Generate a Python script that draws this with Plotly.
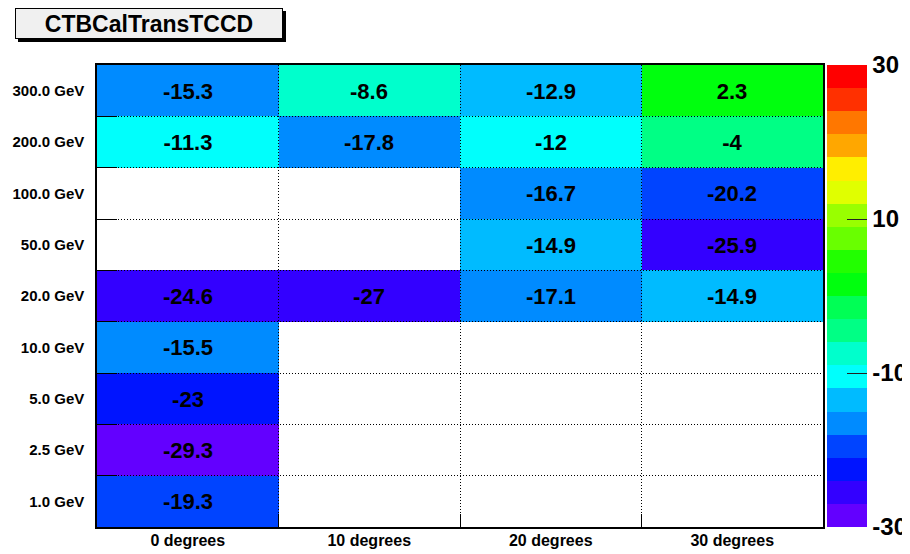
import plotly.graph_objects as go

# ---- data ----
angles = ["0 degrees", "10 degrees", "20 degrees", "30 degrees"]
energies = ["1.0 GeV", "2.5 GeV", "5.0 GeV", "10.0 GeV", "20.0 GeV",
            "50.0 GeV", "100.0 GeV", "200.0 GeV", "300.0 GeV"]
# rows in the same order as energies (bottom to top)
row_1 = [-19.3, None, None, None]
row_2_5 = [-29.3, None, None, None]
row_5 = [-23, None, None, None]
row_10 = [-15.5, None, None, None]
row_20 = [-24.6, -27, -17.1, -14.9]
row_50 = [None, None, -14.9, -25.9]
row_100 = [None, None, -16.7, -20.2]
row_200 = [-11.3, -17.8, -12, -4]
row_300 = [-15.3, -8.6, -12.9, 2.3]
z = [row_1, row_2_5, row_5, row_10, row_20, row_50, row_100, row_200, row_300]
cbar_ticks = [-30, -10, 10, 30]
cbar_labels = ["-30", "-10", "10", "30"]

# ROOT pretty palette, 20 contour levels (bottom -> top)
palette = ["#6300FF", "#3300FF", "#0014FF", "#0044FF", "#008BFF",
           "#00BBFF", "#00FFFC", "#00FFCC", "#00FF85", "#00FF55",
           "#00FF0E", "#22FF00", "#69FF00", "#99FF00", "#E0FF00",
           "#FFEE00", "#FFA700", "#FF7700", "#FF3000", "#FF0000"]
n = len(palette)
eps = 1e-6
colorscale = []
for i, c in enumerate(palette):
    lo = 0.0 if i == 0 else i / n - eps
    hi = 1.0 if i == n - 1 else (i + 1) / n - eps
    colorscale.append([lo, c])
    colorscale.append([hi, c])

text = [["" if v is None else f"{v:g}" for v in row] for row in z]

FONT = "Liberation Sans"
OFF = 8  # page body margin
W, H = 910 - OFF, 554 - OFF
PL, PR, PT, PB = 97, 823, 65, 527  # plot area in window pixels
L, R, T, B = PL - OFF, W - (PR - OFF), PT - OFF, H - (PB - OFF)
pw, ph = W - L - R, H - T - B


def px(xw):
    return (xw - OFF - L) / pw


def py(yw):
    return (H - B - (yw - OFF)) / ph


fig = go.Figure()
fig.add_trace(go.Heatmap(
    x=angles, y=energies, z=z, text=text, texttemplate="%{text}",
    textfont=dict(family=FONT, size=22, color="black", weight="bold"),
    colorscale=colorscale, zmin=-30, zmax=30, hoverongaps=False,
    colorbar=dict(
        x=px(827), xanchor="left", xpad=0,
        y=0.5, yanchor="middle", len=1, lenmode="fraction", ypad=0,
        thickness=40, thicknessmode="pixels", outlinewidth=0,
        tickmode="array", tickvals=cbar_ticks, ticktext=cbar_labels,
        ticks="inside", ticklen=20, tickwidth=1, tickcolor="#222",
        tickfont=dict(family=FONT, size=24, color="black", weight="bold"),
    ),
))
# empty trace on an overlapping subplot used to draw the dotted grid above the cells
fig.add_trace(go.Scatter(x=[], y=[], xaxis="x2", yaxis="y2", showlegend=False,
                         hoverinfo="skip"))

fig.update_layout(
    width=W, height=H,
    margin=dict(l=L, r=R, t=T, b=B, autoexpand=False),
    paper_bgcolor="white", plot_bgcolor="rgba(0,0,0,0)",
    font=dict(family=FONT, color="black"),
    xaxis=dict(type="category", categoryorder="array", categoryarray=angles,
               range=[-0.5, len(angles) - 0.5], tickson="boundaries",
               ticks="inside", ticklen=13, tickwidth=1, tickcolor="black",
               showgrid=False, zeroline=False,
               showline=True, linecolor="black", linewidth=1.5, mirror=True,
               tickfont=dict(family=FONT, size=16, weight="bold"),
               ticklabelstandoff=-2,
               layer="above traces"),
    yaxis=dict(type="category", categoryorder="array", categoryarray=energies,
               range=[-0.5, len(energies) - 0.5], tickson="boundaries",
               ticks="inside", ticklen=20, tickwidth=1, tickcolor="black",
               showgrid=False, zeroline=False,
               showline=True, linecolor="black", linewidth=1.5, mirror=True,
               tickfont=dict(family=FONT, size=15, weight="bold"),
               ticklabelstandoff=8,
               layer="above traces"),
    xaxis2=dict(domain=[0, 1], anchor="y2", range=[0, len(angles)],
                tick0=0, dtick=1, showgrid=True, gridcolor="black",
                gridwidth=1, griddash="1px,2px", showticklabels=False,
                ticks="", zeroline=False, showline=False, fixedrange=True),
    yaxis2=dict(domain=[0, 1], anchor="x2", range=[0, len(energies)],
                tick0=0, dtick=1, showgrid=True, gridcolor="black",
                gridwidth=1, griddash="1px,2px", showticklabels=False,
                ticks="", zeroline=False, showline=False, fixedrange=True),
    showlegend=False,
)

# title box with shadow (ROOT style)
fig.add_annotation(xref="paper", yref="paper", x=px(18), y=py(11),
                   xanchor="left", yanchor="top", text="&nbsp;",
                   showarrow=False, width=266, height=29, borderpad=0,
                   bgcolor="black", bordercolor="black", borderwidth=1,
                   font=dict(family=FONT, size=21, color="black"))
fig.add_annotation(xref="paper", yref="paper", x=px(15), y=py(8),
                   xanchor="left", yanchor="top", text="CTBCalTransTCCD",
                   showarrow=False, width=266, height=29, borderpad=0,
                   bgcolor="#F0F0F0", bordercolor="black", borderwidth=1,
                   font=dict(family=FONT, size=23, color="black", weight="bold"))

fig.write_html("out.html")
